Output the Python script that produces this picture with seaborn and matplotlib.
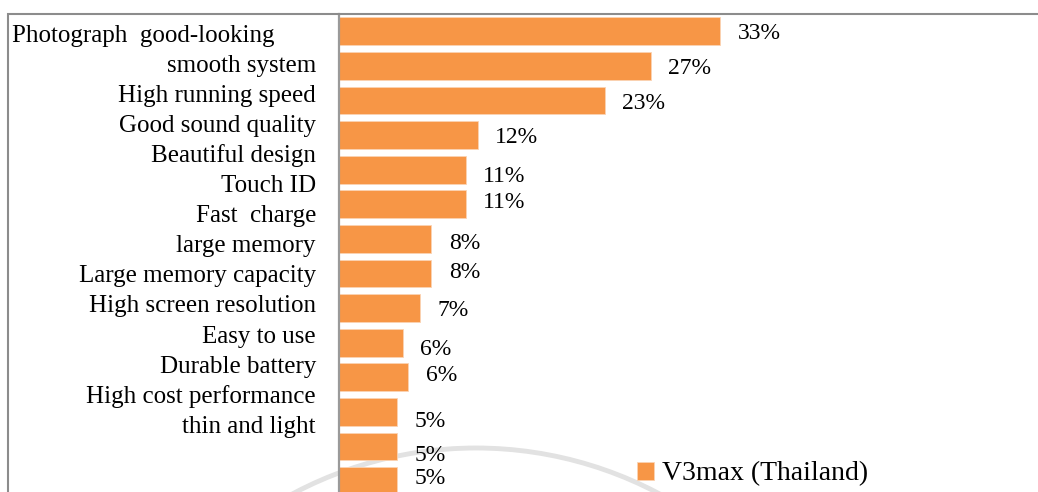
import numpy as np
import pandas as pd
import matplotlib
matplotlib.use("Agg")
import matplotlib.pyplot as plt
import seaborn as sns
from matplotlib.patches import Rectangle, Arc

# ---- data ----
categories = ["Photograph  good-looking", "smooth system", "High running speed",
              "Good sound quality", "Beautiful design", "Touch ID", "Fast  charge",
              "large memory", "Large memory capacity", "High screen resolution",
              "Easy to use", "Durable battery", "High cost performance", "thin and light"]
values = [33, 27, 23, 12, 11, 11, 8, 8, 7, 5.5, 6, 5, 5, 5]
value_labels = [f"{v:.0f}%" for v in values]
series_name = "V3max (Thailand)"

# irregular vertical nudges of the value labels in the source (points, + = up)
label_nudge = [-1.5, -2, -2, -1.5, -5, 1.5, -3, 0.7, -2, -5, 1, -7, -6.5, 2]

df = pd.DataFrame({"category": categories, "value": values,
                   "series": [series_name] * len(categories)})

# ---- style ----
sns.set_theme(style="white")
plt.rcParams["font.family"] = ["Liberation Serif", "DejaVu Serif"]

W, H = 1038, 492
fig = plt.figure(figsize=(W / 100, H / 100), dpi=100)
fig.patch.set_facecolor("white")

ax_left, ax_top, ax_bottom = 339, 14, 498.4
ax = fig.add_axes([ax_left / W, 1 - ax_bottom / H, (W - ax_left) / W, (ax_bottom - ax_top) / H])
ax.patch.set_alpha(0)

bar_color = "#F79646"
sns.barplot(data=df, y="category", x="value", hue="series", palette=[bar_color],
            saturation=1, orient="h", width=0.8, edgecolor="#FBD3B3", linewidth=0.6,
            ax=ax, legend=True)

ax.set_xlim(0, (W - ax_left) / 11.55)
ax.set_ylim(len(categories) - 0.5, -0.5)
ax.set_xlabel("")
ax.set_ylabel("")
ax.set_xticks([])

for s in ["top", "right", "bottom"]:
    ax.spines[s].set_visible(False)
ax.spines["left"].set_color("#9a9a9a")
ax.spines["left"].set_linewidth(1.6)

# category labels (spaced slightly tighter than bars, as in the source)
label_pitch, label_shift = 0.87, 0.05
ticks = [label_shift + i * label_pitch for i in range(len(categories))]
pad_px = 23
ax.set_yticks(ticks)
ax.set_yticklabels(categories, fontsize=18, color="black")
ax.tick_params(axis="y", length=0, pad=pad_px * 0.72)
first = ax.get_yticklabels()[0]
first.set_horizontalalignment("left")
first.set_x((12 + pad_px - ax_left) / (W - ax_left))

# value labels
for i, (v, t, dy) in enumerate(zip(values, value_labels, label_nudge)):
    ax.annotate(t, xy=(v, i), xytext=(12.5, dy), textcoords="offset points",
                ha="left", va="center", fontsize=17, color="black")

# legend
leg = ax.legend(loc="center left", bbox_to_anchor=(637 / W, 1 - 474 / H),
                bbox_transform=fig.transFigure, frameon=False, fontsize=20,
                handlelength=0.6, handleheight=0.6, handletextpad=0.3,
                borderpad=0, borderaxespad=0)
for txt in leg.get_texts():
    txt.set_color("black")

# chart-area frame
fig.add_artist(Rectangle((8 / W, -0.2), 1.2, 1 - 14 / H + 0.2, transform=fig.transFigure,
                         fill=False, edgecolor="#8c8c8c", linewidth=1.5, zorder=5))

# faint watermark arc behind the bars
R = 390
arc = Arc((476 / W, 1 - 838 / H), 2 * R / W, 2 * R / H, theta1=40, theta2=140,
          transform=fig.transFigure, color="#e2e2e2", linewidth=3.5, zorder=-1)
fig.add_artist(arc)

fig.savefig("out.png", dpi=100)
